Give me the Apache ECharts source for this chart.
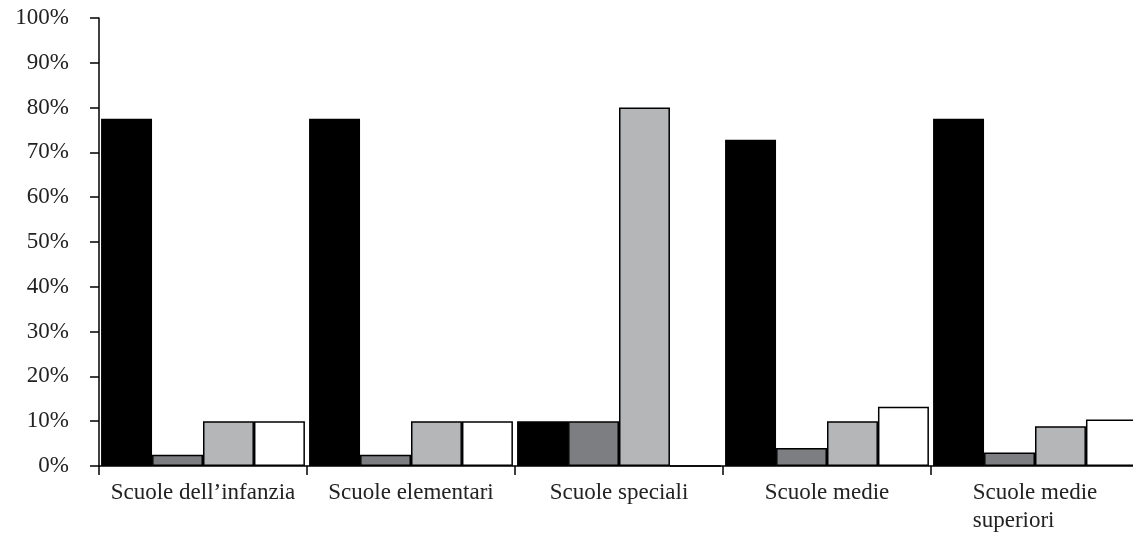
<!DOCTYPE html>
<html>
<head>
<meta charset="utf-8">
<script src="https://cdn.jsdelivr.net/npm/echarts@6/dist/echarts.min.js"></script>
<style>
  html, body { margin: 0; padding: 0; background: #fff; }
  #chart { width: 1133px; height: 533px; }
</style>
</head>
<body>
<div id="chart"></div>
<script>
// categorie (scuole)
const categories = ['Scuole dell\u2019infanzia', 'Scuole elementari', 'Scuole speciali', 'Scuole medie', 'Scuole medie\nsuperiori']
// valori in % per le quattro serie
const serieNera = [77.5, 77.5, 10, 72.8, 77.5]
const serieGrigioScuro = [2.5, 2.5, 10, 4, 3]
const serieGrigioChiaro = [10, 10, 80, 10, 8.9]
const serieBianca = [10, 10, 0, 13.2, 10.4]

const colori = ['#000000', '#7d7e82', '#b4b6b8', '#ffffff']
const FONT = 'Liberation Serif'

const chart = echarts.init(document.getElementById('chart'))

function barSeries(name, data, color) {
  return {
    name: name,
    type: 'bar',
    data: data,
    barGap: 0,
    barCategoryGap: '2%',
    itemStyle: {
      color: color,
      borderColor: '#000',
      borderWidth: 1.5
    }
  }
}

chart.setOption({
  animation: false,
  grid: {
    left: 99,
    width: 1040,
    top: 18,
    bottom: 67,
    containLabel: false,
    outerBoundsMode: 'none'
  },
  xAxis: {
    type: 'category',
    data: categories,
    axisLine: { lineStyle: { color: '#000', width: 1.5 } },
    axisTick: { show: true, length: 9, lineStyle: { color: '#000', width: 1.5 } },
    axisLabel: {
      margin: 13,
      interval: 0,
      fontFamily: FONT,
      fontSize: 23,
      color: '#222',
      formatter: v => v.split('\n').map(s => '{a|' + s + '}').join('\n'),
      rich: {
        a: { fontFamily: FONT, fontSize: 23, color: '#222', align: 'left', lineHeight: 28 }
      }
    },
    splitLine: { show: false }
  },
  yAxis: {
    type: 'value',
    min: 0,
    max: 100,
    interval: 10,
    axisLine: { show: true, lineStyle: { color: '#000', width: 1.5 } },
    axisTick: { show: true, length: 9, lineStyle: { color: '#000', width: 1.5 } },
    axisLabel: {
      margin: 30,
      fontFamily: FONT,
      fontSize: 23,
      color: '#222',
      formatter: '{value}%'
    },
    splitLine: { show: false }
  },
  series: [
    barSeries('Serie 1', serieNera, colori[0]),
    barSeries('Serie 2', serieGrigioScuro, colori[1]),
    barSeries('Serie 3', serieGrigioChiaro, colori[2]),
    barSeries('Serie 4', serieBianca, colori[3])
  ]
})
</script>
</body>
</html>
